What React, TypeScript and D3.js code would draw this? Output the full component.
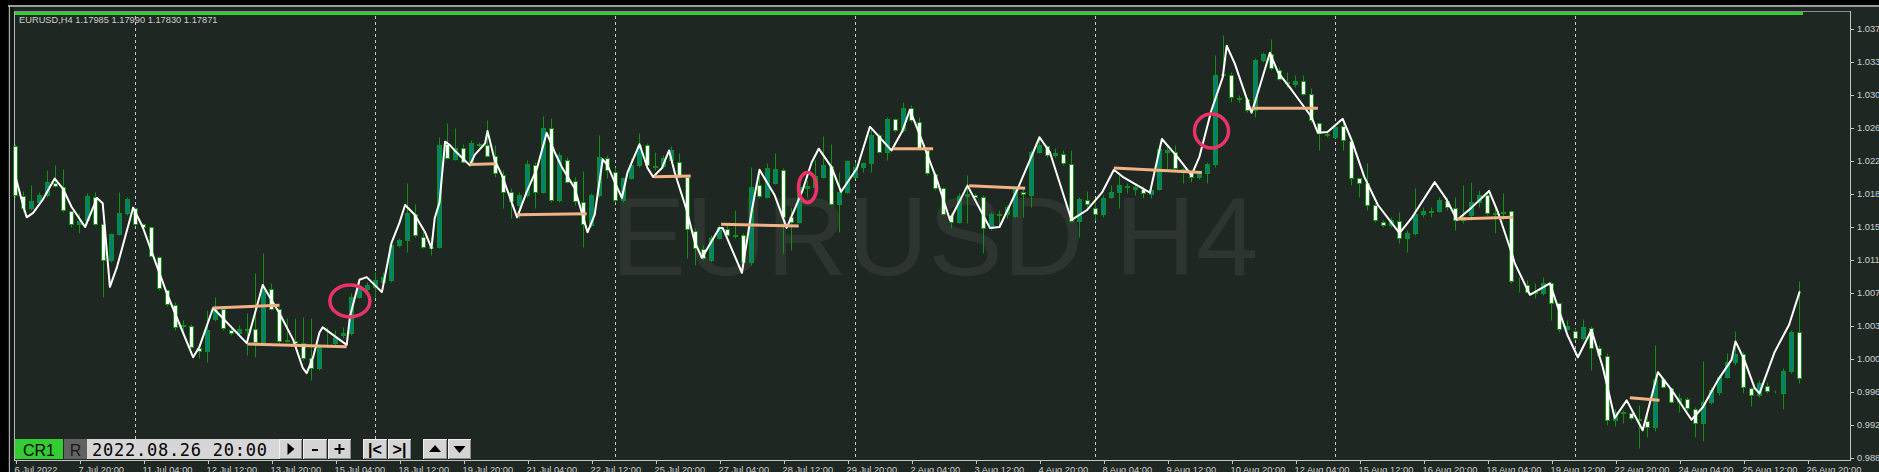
import React from 'react';
import * as d3 from 'd3';

const W = 1879;
const H = 472;

const opens = [
1.0242,1.0185,1.0172,1.0178,1.0186,1.0200,1.0196,1.0168,1.0153,1.0158,
1.0184,1.0153,1.0113,1.0142,1.0166,1.0172,1.0153,1.0150,1.0116,1.0078,
1.0061,1.0039,1.0038,1.0013,1.0009,1.0045,1.0057,1.0033,1.0030,1.0034,
1.0034,1.0019,1.0080,1.0057,1.0022,1.0021,1.0018,1.0001,0.9990,1.0015,
1.0018,1.0027,1.0030,1.0070,1.0080,1.0082,1.0088,1.0090,1.0130,1.0135,
1.0165,1.0139,1.0127,1.0127,1.0244,1.0227,1.0240,1.0224,1.0244,1.0243,
1.0231,1.0209,1.0190,1.0175,1.0186,1.0220,1.0190,1.0262,1.0181,1.0226,
1.0202,1.0178,1.0152,1.0186,1.0228,1.0213,1.0181,1.0206,1.0220,1.0243,
1.0219,1.0219,1.0226,1.0224,1.0207,1.0145,1.0125,1.0113,1.0138,1.0148,
1.0141,1.0141,1.0110,1.0198,1.0184,1.0200,1.0215,1.0161,1.0156,1.0194,
1.0196,1.0207,1.0219,1.0176,1.0190,1.0207,1.0218,1.0223,1.0255,1.0235,
1.0273,1.0260,1.0285,1.0269,1.0237,1.0210,1.0194,1.0164,1.0156,1.0185,
1.0186,1.0184,1.0149,1.0165,1.0165,1.0162,1.0190,1.0186,1.0235,1.0242,
1.0232,1.0233,1.0222,1.0157,1.0181,1.0172,1.0165,1.0184,1.0190,1.0197,
1.0193,1.0193,1.0187,1.0193,1.0235,1.0235,1.0216,1.0211,1.0207,1.0211,
1.0222,1.0323,1.0323,1.0297,1.0295,1.0283,1.0340,1.0347,1.0328,1.0315,
1.0312,1.0316,1.0301,1.0268,1.0256,1.0252,1.0265,1.0248,1.0206,1.0200,
1.0175,1.0156,1.0152,1.0157,1.0138,1.0143,1.0165,1.0168,1.0168,1.0180,
1.0172,1.0158,1.0164,1.0178,1.0186,1.0166,1.0166,1.0168,1.0088,1.0084,
1.0076,1.0075,1.0086,1.0064,1.0034,1.0032,1.0024,1.0035,1.0013,1.0003,
0.9931,0.9940,0.9939,0.9932,0.9930,0.9923,0.9977,0.9967,0.9951,0.9955,
0.9943,0.9927,0.9951,0.9962,0.9980,0.9997,1.0006,0.9967,0.9959,0.9969,
0.9963,0.9961,0.9986,1.0031
];
const highs = [
1.0244,1.0191,1.0198,1.0190,1.0215,1.0220,1.0216,1.0169,1.0166,1.0189,
1.0190,1.0155,1.0143,1.0190,1.0184,1.0173,1.0154,1.0151,1.0117,1.0080,
1.0065,1.0044,1.0040,1.0014,1.0056,1.0070,1.0058,1.0035,1.0039,1.0052,
1.0098,1.0121,1.0086,1.0059,1.0047,1.0047,1.0048,1.0047,1.0016,1.0036,
1.0033,1.0036,1.0075,1.0090,1.0088,1.0099,1.0099,1.0133,1.0138,1.0200,
1.0176,1.0144,1.0139,1.0252,1.0268,1.0263,1.0244,1.0249,1.0247,1.0272,
1.0243,1.0215,1.0194,1.0190,1.0226,1.0224,1.0276,1.0274,1.0235,1.0230,
1.0207,1.0214,1.0189,1.0255,1.0232,1.0218,1.0207,1.0228,1.0257,1.0245,
1.0235,1.0232,1.0242,1.0234,1.0209,1.0149,1.0130,1.0141,1.0152,1.0152,
1.0169,1.0143,1.0218,1.0215,1.0223,1.0234,1.0217,1.0173,1.0207,1.0203,
1.0226,1.0253,1.0244,1.0212,1.0226,1.0224,1.0224,1.0264,1.0257,1.0275,
1.0274,1.0292,1.0289,1.0275,1.0240,1.0212,1.0196,1.0166,1.0189,1.0209,
1.0189,1.0186,1.0167,1.0169,1.0175,1.0197,1.0196,1.0237,1.0252,1.0243,
1.0240,1.0237,1.0237,1.0184,1.0191,1.0181,1.0186,1.0198,1.0209,1.0200,
1.0200,1.0197,1.0196,1.0240,1.0243,1.0243,1.0218,1.0212,1.0212,1.0224,
1.0345,1.0368,1.0326,1.0300,1.0298,1.0342,1.0349,1.0364,1.0332,1.0326,
1.0323,1.0323,1.0308,1.0269,1.0258,1.0266,1.0272,1.0251,1.0207,1.0223,
1.0177,1.0158,1.0161,1.0167,1.0147,1.0194,1.0173,1.0173,1.0184,1.0184,
1.0184,1.0198,1.0201,1.0192,1.0190,1.0175,1.0189,1.0169,1.0093,1.0090,
1.0086,1.0093,1.0088,1.0065,1.0044,1.0035,1.0045,1.0038,1.0016,1.0007,
0.9943,0.9942,0.9940,0.9948,0.9939,1.0016,0.9980,0.9968,0.9961,0.9957,
0.9945,0.9998,0.9968,0.9982,1.0007,1.0032,1.0008,0.9968,0.9976,0.9974,
0.9965,0.9990,1.0033,1.0089
];
const lows = [
1.0184,1.0167,1.0169,1.0177,1.0184,1.0196,1.0167,1.0150,1.0143,1.0155,
1.0152,1.0070,1.0110,1.0141,1.0164,1.0152,1.0149,1.0116,1.0078,1.0060,
1.0033,1.0033,1.0013,1.0001,0.9997,1.0043,1.0033,1.0027,1.0028,1.0005,
1.0002,1.0016,1.0056,1.0018,1.0019,1.0016,0.9999,0.9976,0.9988,1.0014,
1.0016,1.0024,1.0027,1.0069,1.0076,1.0070,1.0086,1.0088,1.0127,1.0122,
1.0139,1.0126,1.0118,1.0126,1.0227,1.0226,1.0223,1.0220,1.0241,1.0230,
1.0207,1.0172,1.0160,1.0160,1.0184,1.0172,1.0189,1.0178,1.0178,1.0200,
1.0175,1.0127,1.0150,1.0184,1.0206,1.0178,1.0178,1.0205,1.0218,1.0218,
1.0215,1.0217,1.0225,1.0206,1.0115,1.0107,1.0112,1.0110,1.0136,1.0138,
1.0138,1.0105,1.0107,1.0183,1.0183,1.0199,1.0121,1.0124,1.0155,1.0184,
1.0192,1.0206,1.0175,1.0144,1.0189,1.0206,1.0212,1.0212,1.0234,1.0226,
1.0258,1.0258,1.0269,1.0237,1.0209,1.0192,1.0164,1.0149,1.0155,1.0155,
1.0182,1.0121,1.0147,1.0150,1.0160,1.0161,1.0161,1.0173,1.0234,1.0230,
1.0230,1.0220,1.0156,1.0139,1.0173,1.0158,1.0161,1.0183,1.0172,1.0189,
1.0186,1.0183,1.0183,1.0192,1.0215,1.0215,1.0200,1.0201,1.0205,1.0200,
1.0218,1.0320,1.0292,1.0292,1.0281,1.0275,1.0337,1.0328,1.0317,1.0309,
1.0309,1.0300,1.0269,1.0237,1.0252,1.0251,1.0237,1.0198,1.0184,1.0169,
1.0156,1.0150,1.0150,1.0132,1.0122,1.0141,1.0161,1.0161,1.0167,1.0169,
1.0147,1.0155,1.0158,1.0173,1.0164,1.0143,1.0158,1.0086,1.0076,1.0075,
1.0069,1.0073,1.0044,1.0031,1.0033,1.0023,1.0022,0.9987,1.0002,0.9925,
0.9924,0.9927,0.9931,0.9899,0.9911,0.9918,0.9967,0.9950,0.9940,0.9942,
0.9911,0.9907,0.9949,0.9959,0.9978,0.9993,0.9961,0.9947,0.9957,0.9961,
0.9961,0.9943,0.9984,0.9973
];
const closes = [
1.0186,1.0172,1.0180,1.0186,1.0201,1.0197,1.0169,1.0153,1.0157,1.0185,
1.0153,1.0113,1.0142,1.0166,1.0182,1.0153,1.0150,1.0117,1.0081,1.0063,
1.0036,1.0038,1.0014,1.0009,1.0033,1.0057,1.0035,1.0030,1.0034,1.0033,
1.0019,1.0078,1.0057,1.0020,1.0021,1.0018,1.0001,0.9990,1.0014,1.0016,
1.0025,1.0030,1.0070,1.0082,1.0084,1.0090,1.0093,1.0130,1.0135,1.0166,
1.0141,1.0127,1.0126,1.0243,1.0228,1.0240,1.0224,1.0245,1.0243,1.0231,
1.0211,1.0190,1.0180,1.0186,1.0222,1.0190,1.0262,1.0181,1.0232,1.0201,
1.0180,1.0153,1.0186,1.0230,1.0215,1.0181,1.0206,1.0220,1.0243,1.0220,
1.0218,1.0228,1.0237,1.0207,1.0148,1.0126,1.0115,1.0138,1.0150,1.0141,
1.0140,1.0110,1.0196,1.0185,1.0217,1.0216,1.0161,1.0156,1.0196,1.0197,
1.0208,1.0220,1.0176,1.0190,1.0225,1.0218,1.0223,1.0255,1.0235,1.0273,
1.0260,1.0285,1.0272,1.0240,1.0211,1.0194,1.0165,1.0156,1.0185,1.0187,
1.0184,1.0149,1.0165,1.0164,1.0173,1.0194,1.0187,1.0235,1.0243,1.0232,
1.0234,1.0223,1.0157,1.0182,1.0176,1.0165,1.0183,1.0190,1.0198,1.0196,
1.0195,1.0189,1.0192,1.0239,1.0237,1.0217,1.0212,1.0207,1.0211,1.0222,
1.0323,1.0324,1.0298,1.0296,1.0283,1.0340,1.0347,1.0331,1.0318,1.0314,
1.0316,1.0301,1.0272,1.0257,1.0255,1.0264,1.0249,1.0206,1.0200,1.0175,
1.0158,1.0152,1.0158,1.0138,1.0143,1.0165,1.0168,1.0167,1.0181,1.0173,
1.0158,1.0161,1.0178,1.0186,1.0166,1.0165,1.0167,1.0089,1.0087,1.0076,
1.0075,1.0086,1.0064,1.0034,1.0038,1.0024,1.0036,1.0013,1.0005,0.9931,
0.9940,0.9939,0.9933,0.9931,0.9923,0.9977,0.9968,0.9951,0.9956,0.9944,
0.9927,0.9951,0.9965,0.9980,0.9997,1.0006,0.9968,0.9959,0.9973,0.9964,
0.9962,0.9986,1.0031,0.9978
];

const timeLabels = [
'6 Jul 2022','7 Jul 20:00','11 Jul 04:00','12 Jul 12:00','13 Jul 20:00','15 Jul 04:00',
'18 Jul 12:00','19 Jul 20:00','21 Jul 04:00','22 Jul 12:00','25 Jul 20:00','27 Jul 04:00',
'28 Jul 12:00','29 Jul 20:00','2 Aug 04:00','3 Aug 12:00','4 Aug 20:00','8 Aug 04:00',
'9 Aug 12:00','10 Aug 20:00','12 Aug 04:00','15 Aug 12:00','16 Aug 20:00','18 Aug 04:00',
'19 Aug 12:00','22 Aug 20:00','24 Aug 04:00','25 Aug 12:00','26 Aug 20:00'
];
const barsPerLabel = 8;

const priceTicks = [1.0375,1.03375,1.03,1.02625,1.0225,1.01875,1.015,1.01125,1.0075,1.00375,1.0,0.99625,0.9925,0.98875];

const separatorBars = [15,45,75,105,135,165,195];

const lineBar = [0,1.0,1.4,2.2,3.4,4.9,5.9,7.0,8.7,10.2,10.9,11.8,12.7,14.7,15.9,17.7,18.9,22.2,23.0,24.7,28.9,30.9,32.0,33.0,34.7,35.9,36.4,37.2,38.0,38.4,41.4,41.8,43.0,43.9,45.8,47.0,48.0,48.7,49.9,51.2,52.0,52.4,53.0,53.7,54.3,54.9,56.8,57.4,58.7,59.0,59.9,60.8,62.7,63.9,65.2,66.4,67.4,68.3,69.9,71.5,72.4,73.4,74.0,74.9,75.8,76.5,78.0,79.0,79.7,80.8,81.7,82.4,83.9,84.9,85.8,88.0,88.4,90.8,92.0,93.0,94.9,96.4,98.4,99.5,100.4,102.0,103.2,105.2,106.8,109.5,110.9,111.8,112.8,113.9,115.2,116.8,119.0,121.8,123.0,125.2,126.8,128.0,129.3,132.0,133.9,135.8,137.3,138.4,141.8,143.3,145.2,147.0,148.0,149.5,150.9,151.4,152.4,154.5,154.9,156.8,157.8,159.5,162.0,162.8,164.0,165.9,167.0,168.6,170.3,173.0,174.5,177.4,178.9,180.2,182.0,184.2,185.3,187.0,187.4,189.3,191.8,192.8,194.0,195.3,197.0,198.4,199.0,199.9,201.4,203.4,204.5,205.3,207.0,209.5,210.9,212.8,214.5,215.0,216.1,217.4,218.0,219.9,221.7,223.0];
const linePrice = [1.0207,1.0173,1.0161,1.0166,1.0181,1.0205,1.0194,1.0173,1.0150,1.0183,1.0177,1.0082,1.0105,1.0172,1.0150,1.0105,1.0075,1.0002,1.0014,1.0058,1.0018,1.0084,1.0067,1.0052,1.0022,0.9990,0.9984,1.0002,1.0030,1.0036,1.0016,1.0048,1.0090,1.0093,1.0076,1.0132,1.0155,1.0175,1.0164,1.0144,1.0126,1.0160,1.0178,1.0247,1.0243,1.0237,1.0220,1.0232,1.0245,1.0259,1.0226,1.0209,1.0161,1.0190,1.0217,1.0257,1.0235,1.0218,1.0194,1.0144,1.0164,1.0227,1.0220,1.0201,1.0183,1.0212,1.0244,1.0217,1.0207,1.0217,1.0237,1.0212,1.0169,1.0133,1.0115,1.0149,1.0149,1.0098,1.0167,1.0215,1.0186,1.0149,1.0192,1.0223,1.0239,1.0218,1.0190,1.0217,1.0264,1.0237,1.0260,1.0283,1.0260,1.0234,1.0203,1.0158,1.0197,1.0149,1.0150,1.0192,1.0226,1.0252,1.0235,1.0158,1.0169,1.0189,1.0215,1.0207,1.0189,1.0250,1.0230,1.0209,1.0230,1.0283,1.0320,1.0356,1.0336,1.0280,1.0291,1.0348,1.0326,1.0306,1.0275,1.0257,1.0258,1.0273,1.0249,1.0207,1.0175,1.0143,1.0160,1.0201,1.0181,1.0158,1.0172,1.0191,1.0167,1.0121,1.0109,1.0073,1.0086,1.0059,1.0027,1.0002,1.0033,0.9991,0.9968,0.9933,0.9953,0.9919,0.9957,0.9985,0.9965,0.9931,0.9945,0.9976,0.9999,1.0020,0.9999,0.9967,0.9961,1.0008,1.0039,1.0076];

const levelStartBar = [24.7,29.0,56.8,62.7,79.8,88.2,109.7,119.2,137.3,154.5,180.2,201.8];
const levelStartPrice = [1.0058,1.0017,1.0221,1.0164,1.0207,1.0153,1.0239,1.0197,1.0217,1.0285,1.0159,0.9956];
const levelEndBar = [33.0,41.4,60.0,71.4,84.4,97.9,114.7,126.2,148.3,162.8,187.2,205.5];
const levelEndPrice = [1.0061,1.0014,1.0222,1.0165,1.0208,1.0151,1.0239,1.0194,1.0212,1.0285,1.0161,0.9953];

const markBar = [41.8,99.0,149.5];
const markPrice = [1.0066,1.0195,1.0259];

const headerText = 'EURUSD,H4  1.17985 1.17990 1.17830 1.17871';
const watermark = 'EURUSD H4';
const cursorTime = '2022.08.26 20:00';

// styles
const BG = '#1f2723';
const WICK = '#119111';
const TEAL = '#00807a';
const AXIS = '#c4c4c4';
const LABEL = '#cfcfcf';
const FONT = '"Liberation Sans", Arial, sans-serif';
const markRx = [20, 9, 17];
const markRy = [16, 15, 17];

export default function App() {
  const x = d3.scaleLinear().domain([0, 224]).range([15.5, 1807.5]);
  const y = d3.scaleLinear().domain([1.0375, 0.98875]).range([29, 458]);
  const py = (v: number) => Math.round(y(v)) + 0.5;

  const line = d3.line<number>()
    .x((_, i) => x(lineBar[i]))
    .y((d) => y(d));

  const candles = opens.map((o, i) => {
    const c = closes[i];
    const xc = x(i);
    const top = py(Math.max(o, c));
    const bot = py(Math.min(o, c));
    const bull = c > o;
    return (
      <g key={i}>
        <line x1={xc} x2={xc} y1={py(highs[i])} y2={py(lows[i])} stroke={WICK} strokeWidth={1} />
        <rect x={xc - 2} y={top} width={4} height={Math.max(bot - top, 0)}
          fill={bull ? TEAL : '#ffffff'} stroke={WICK} strokeWidth={1} />
      </g>
    );
  });

  const buttons = [
    { x0: 279, w: 23, kind: 'play' },
    { x0: 303, w: 24, kind: 'minus' },
    { x0: 328, w: 23, kind: 'plus' },
    { x0: 363, w: 24, kind: 'first' },
    { x0: 388, w: 23, kind: 'last' },
    { x0: 423, w: 24, kind: 'up' },
    { x0: 448, w: 23, kind: 'down' },
  ];

  return (
    <svg width={W} height={H} style={{ position: 'absolute', left: 0, top: 0, display: 'block' }}
      fontFamily={FONT}>
      <rect x={0} y={0} width={W} height={H} fill={BG} />
      {/* outer window chrome */}
      <rect x={0} y={0} width={W} height={5} fill="#000" />
      <rect x={0} y={0} width={8} height={H} fill="#000" />
      <rect x={8} y={5} width={W - 8} height={2} fill="#9c9c9c" />
      <line x1={9.5} x2={9.5} y1={5} y2={H} stroke="#a8a8a8" />
      <rect x={10} y={7} width={4} height={H - 7} fill="#141a17" />
      <line x1={14.5} x2={14.5} y1={11} y2={460} stroke="#b4b4b4" />
      <line x1={14} x2={1850} y1={11.5} y2={11.5} stroke="#8a8a8a" />
      <rect x={15} y={12} width={1788} height={3} fill="#32cd32" />

      {/* watermark */}
      <text x={611} y={275} fontSize={112} fill="#2e3531" fontFamily={FONT}>{watermark}</text>

      {/* separators */}
      {separatorBars.map((b) => (
        <line key={b} x1={Math.round(x(b)) - 0.5} x2={Math.round(x(b)) - 0.5} y1={16} y2={460}
          stroke="#c8c8c8" strokeDasharray="3,3" strokeWidth={1} />
      ))}

      {candles}

      {/* white indicator line */}
      <path d={line(linePrice) || ''} fill="none" stroke="#ffffff" strokeWidth={2}
        strokeLinejoin="round" strokeLinecap="round" />

      {/* support / resistance levels */}
      {levelStartBar.map((b, i) => (
        <line key={i} x1={x(b)} y1={y(levelStartPrice[i])} x2={x(levelEndBar[i])} y2={y(levelEndPrice[i])}
          stroke="#f3b285" strokeWidth={3} />
      ))}

      {/* pink marks */}
      {markBar.map((b, i) => (
        <ellipse key={i} cx={x(b)} cy={y(markPrice[i])} rx={markRx[i]} ry={markRy[i]}
          fill="none" stroke="#ea3468" strokeWidth={3.5} />
      ))}

      {/* header */}
      <text x={19} y={23} fontSize={9.3} fill={LABEL}>{headerText}</text>

      {/* axes */}
      <line x1={1850.5} x2={1850.5} y1={11} y2={460.5} stroke={AXIS} />
      <line x1={14} x2={1851} y1={460.5} y2={460.5} stroke={AXIS} />
      {priceTicks.map((p) => (
        <g key={p}>
          <line x1={1851} x2={1854} y1={py(p)} y2={py(p)} stroke={AXIS} />
          <text x={1857} y={y(p) + 3.4} fontSize={9.3} fill={LABEL}>{p.toFixed(5)}</text>
        </g>
      ))}
      {timeLabels.map((t, k) => {
        const xt = Math.round(x(k * barsPerLabel)) + 0.5;
        return (
          <g key={t}>
            <line x1={xt} x2={xt} y1={460} y2={464} stroke={AXIS} />
            <text x={xt - 2} y={473} fontSize={9.3} fill={LABEL}>{t}</text>
          </g>
        );
      })}

      {/* bottom-left control panel */}
      <rect x={15} y={439} width={48} height={20} fill="#33cc33" />
      <text x={39} y={456} fontSize={16} textAnchor="middle" fill="#000">CR1</text>
      <rect x={64} y={439} width={23} height={20} fill="#626262" />
      <text x={75.5} y={456} fontSize={16} textAnchor="middle" fill="#1a1a1a">R</text>
      <rect x={87} y={439} width={192} height={20} fill="#d6d6d6" />
      <text x={92} y={456} fontSize={17} fill="#000" fontFamily='"DejaVu Sans Mono", monospace'
        textLength={175} lengthAdjust="spacing">{cursorTime}</text>
      {buttons.map((bt) => {
        const cx = bt.x0 + bt.w / 2;
        const cy = 449;
        let glyph: any = null;
        if (bt.kind === 'play') glyph = <path d={`M${cx - 3},${cy - 6} L${cx + 4},${cy} L${cx - 3},${cy + 6} Z`} fill="#000" />;
        if (bt.kind === 'minus') glyph = <rect x={cx - 3} y={cy} width={6} height={2} fill="#000" />;
        if (bt.kind === 'plus') glyph = <g><rect x={cx - 5} y={cy - 1} width={10} height={2} fill="#000" /><rect x={cx - 1} y={cy - 5} width={2} height={10} fill="#000" /></g>;
        if (bt.kind === 'first') glyph = <text x={cx} y={cy + 6} fontSize={16} fontWeight="bold" textAnchor="middle" fill="#000">|&lt;</text>;
        if (bt.kind === 'last') glyph = <text x={cx} y={cy + 6} fontSize={16} fontWeight="bold" textAnchor="middle" fill="#000">&gt;|</text>;
        if (bt.kind === 'up') glyph = <path d={`M${cx - 6},${cy + 3} L${cx},${cy - 4} L${cx + 6},${cy + 3} Z`} fill="#000" />;
        if (bt.kind === 'down') glyph = <path d={`M${cx - 6},${cy - 3} L${cx},${cy + 4} L${cx + 6},${cy - 3} Z`} fill="#000" />;
        return (
          <g key={bt.kind}>
            <rect x={bt.x0 + 0.5} y={439.5} width={bt.w - 1} height={19} fill="#d4d4d4" stroke="#efefef" />
            <line x1={bt.x0 + 1} x2={bt.x0 + bt.w - 0.5} y1={458.5} y2={458.5} stroke="#8c8c8c" />
            <line x1={bt.x0 + bt.w - 0.5} x2={bt.x0 + bt.w - 0.5} y1={440} y2={459} stroke="#8c8c8c" />
            {glyph}
          </g>
        );
      })}
    </svg>
  );
}
